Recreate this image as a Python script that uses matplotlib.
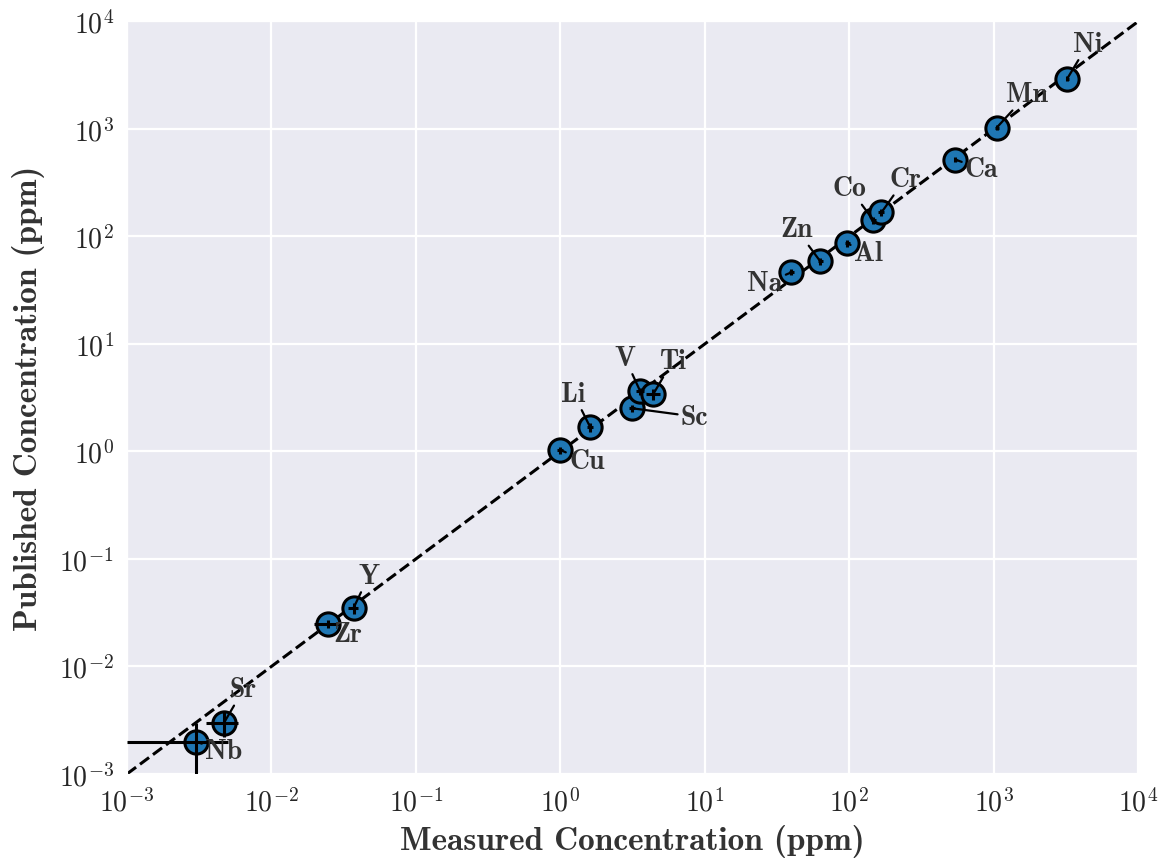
import numpy as np
import matplotlib
matplotlib.use("Agg")
import matplotlib.pyplot as plt
import seaborn as sns

# Element concentrations (ppm): measured vs published
elements = ["Nb", "Sr", "Zr", "Y", "Cu", "Li", "Sc", "V", "Ti",
            "Na", "Zn", "Al", "Co", "Cr", "Ca", "Mn", "Ni"]
measured = [0.003, 0.0047, 0.0247, 0.037, 1.0, 1.61, 3.14, 3.57, 4.39,
            39.7, 63.0, 97.0, 147.0, 167.0, 542.0, 1050.0, 3230.0]
published = [0.002, 0.003, 0.0248, 0.035, 1.03, 1.68, 2.52, 3.63, 3.40,
             46.3, 58.6, 86.0, 141.0, 167.0, 519.0, 1030.0, 2940.0]
measured_err = [0.002, 0.0012, 0.005, 0.003, 0.05, 0.08, 0.15, 0.25, 0.5,
                1.5, 2.5, 4.0, 6.0, 8.0, 15.0, 30.0, 90.0]
published_err = [0.001, 0.0008, 0.002, 0.004, 0.08, 0.15, 0.2, 0.3, 0.4,
                 3.0, 4.0, 6.0, 10.0, 12.0, 30.0, 60.0, 150.0]

# label offsets (points) from each marker
label_dx = [20, 14, 14, 11, 19, -12, 45, -11, 14,
            -19, -17, 15, -17, 17, 19, 22, 15]
label_dy = [-7, 24, -7, 23, -8, 24, -6, 24, 24,
            -8, 23, -7, 23, 24, -7, 24, 25]

sns.set_style("darkgrid")
plt.rcParams["font.family"] = "serif"
plt.rcParams["font.serif"] = ["cmr10"]
plt.rcParams["mathtext.fontset"] = "cm"
plt.rcParams["axes.formatter.use_mathtext"] = True

fig = plt.figure(figsize=(11.65, 8.62), dpi=100)
ax = fig.add_axes([0.109, 0.101, 0.868, 0.873])

lims = [1e-3, 1e4]
ax.plot(lims, lims, "k--", lw=2.2, zorder=2)

ax.scatter(measured, published, s=280, color="#1f77b4", edgecolor="black",
           linewidth=2.2, zorder=3)
ax.errorbar(measured, published, xerr=measured_err, yerr=published_err,
            fmt="none", ecolor="black", elinewidth=2.2, capsize=0, zorder=4)

for name, xm, yp, dx, dy in zip(elements, measured, published, label_dx, label_dy):
    ax.annotate(name, xy=(xm, yp), xytext=(dx, dy), textcoords="offset points",
                ha="center", va="center", fontsize=20, family="cmb10",
                color="#333333", zorder=5,
                arrowprops=dict(arrowstyle="-", color="black", lw=1.6,
                                shrinkA=0, shrinkB=0))

ax.set_xscale("log")
ax.set_yscale("log")
ax.set_xlim(lims)
ax.set_ylim(lims)
ax.tick_params(labelsize=20, colors="#262626", pad=6)
ax.set_xlabel("Measured Concentration (ppm)", fontsize=24, family="cmb10",
              color="#333333", labelpad=6)
ax.set_ylabel("Published Concentration (ppm)", fontsize=24, family="cmb10",
              color="#333333", labelpad=10)
ax.grid(which="major", color="white", linewidth=1.6)
ax.grid(which="minor", visible=False)

fig.savefig("out.png", dpi=100)
